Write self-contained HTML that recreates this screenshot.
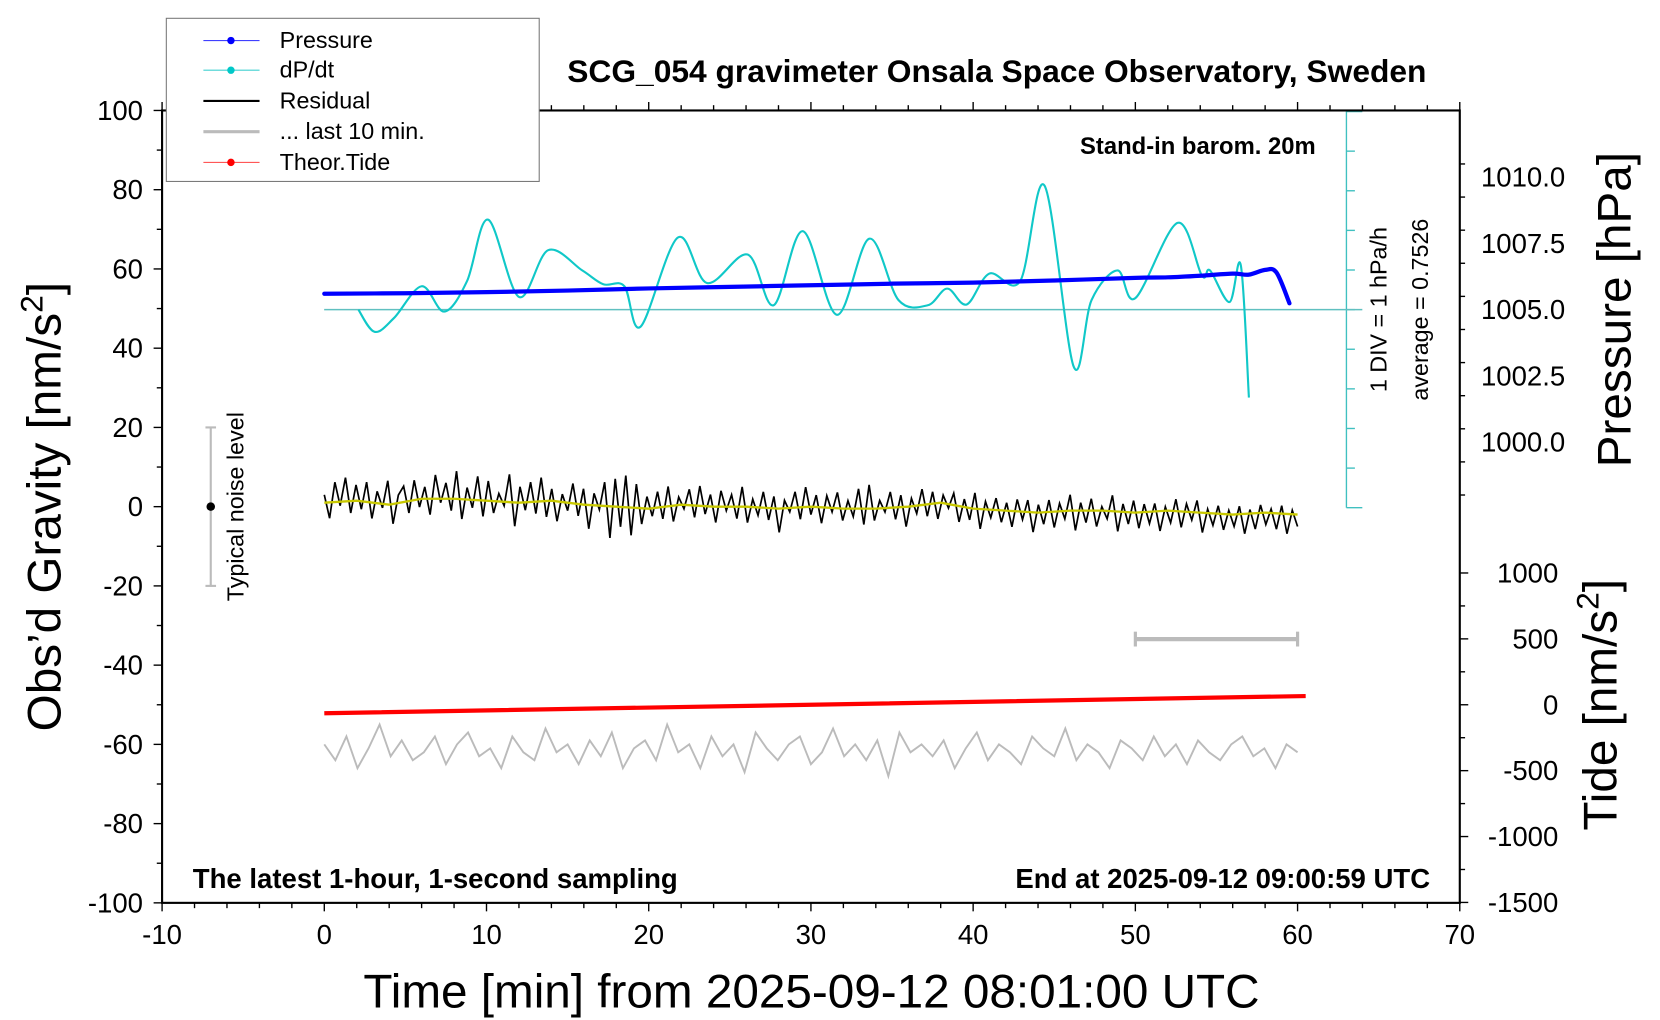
<!DOCTYPE html>
<html><head><meta charset="utf-8"><style>
html,body{margin:0;padding:0;background:#fff}
svg{display:block;font-family:"Liberation Sans",sans-serif}
</style></head><body>
<svg id="chart" width="1660" height="1020" viewBox="0 0 1567 962.3" xmlns="http://www.w3.org/2000/svg">
<rect width="1567" height="962.3" fill="#fff"/>
<g id="marks"></g>
<g id="axes"></g>
<text x="941" y="77" font-size="30" font-weight="bold" text-anchor="middle">SCG_054 gravimeter Onsala Space Observatory, Sweden</text>
<text x="1242" y="145" font-size="22.5" font-weight="bold" text-anchor="end">Stand-in barom. 20m</text>
<text x="182" y="838" font-size="26" font-weight="bold">The latest 1-hour, 1-second sampling</text>
<text x="1350" y="838" font-size="26" font-weight="bold" text-anchor="end">End at 2025-09-12 09:00:59 UTC</text>
<text x="766" y="951" font-size="45" text-anchor="middle">Time [min] from 2025-09-12 08:01:00 UTC</text>
<text transform="translate(57,478) rotate(-90)" font-size="45" text-anchor="middle">Obs’d Gravity [nm/s<tspan font-size="30" dy="-17">2</tspan><tspan dy="17">]</tspan></text>
<text transform="translate(1539,292) rotate(-90)" font-size="45" text-anchor="middle">Pressure [hPa]</text>
<text transform="translate(1526,665) rotate(-90)" font-size="45" text-anchor="middle">Tide [nm/s<tspan font-size="30" dy="-17">2</tspan><tspan dy="17">]</tspan></text>
<text transform="translate(1309,292) rotate(-90)" font-size="22" text-anchor="middle">1 DIV = 1 hPa/h</text>
<text transform="translate(1348,292) rotate(-90)" font-size="22" text-anchor="middle">average = 0.7526</text>
<text transform="translate(230,478) rotate(-90)" font-size="22" text-anchor="middle">Typical noise level</text>
<g>
<rect x="157" y="17" width="352" height="154" fill="#fff" stroke="#777" stroke-width="1"/>
<g><line x1="192" y1="38" x2="245" y2="38" stroke="#4040ff" stroke-width="1"/><circle cx="218" cy="38" r="3.5" fill="#00f"/><text x="264" y="45" font-size="22">Pressure</text></g>
<g><line x1="192" y1="66" x2="245" y2="66" stroke="#40d0d0" stroke-width="1"/><circle cx="218" cy="66" r="3.5" fill="#00c8c8"/><text x="264" y="73" font-size="22">dP/dt</text></g>
<g><line x1="192" y1="95" x2="245" y2="95" stroke="#000" stroke-width="2"/><text x="264" y="102" font-size="22">Residual</text></g>
<g><line x1="192" y1="124" x2="245" y2="124" stroke="#bbb" stroke-width="3"/><text x="264" y="131" font-size="22">... last 10 min.</text></g>
<g><line x1="192" y1="153" x2="245" y2="153" stroke="#ff4040" stroke-width="1"/><circle cx="218" cy="153" r="3.5" fill="#f00"/><text x="264" y="160" font-size="22">Theor.Tide</text></g>
</g>
</svg>
<script>
// ---- data ----
const pressT = [0,5,10,15,20,25,30,35,40,45,50,52,54,56,57,58,58.7,59.5];
const pressV = [1005.6,1005.62,1005.66,1005.72,1005.8,1005.86,1005.92,1005.98,1006.02,1006.1,1006.2,1006.22,1006.28,1006.36,1006.32,1006.5,1006.4,1005.24];
const dpdtT = [2.1,3.1,4.3,6,7.4,8.8,10.1,12,13.8,15.9,17.2,18.5,19.5,21.8,23.6,26.1,27.7,29.5,31.6,33.6,35.4,37.2,38.4,39.6,41,42.9,44.4,46.2,47.3,48.9,50,52.6,54.1,54.6,55.8,56.5,57];
const dpdtV = [0,-0.56,-0.21,0.59,-0.05,0.72,2.27,0.32,1.5,0.99,0.64,0.59,-0.43,1.82,0.67,1.39,0.11,1.98,-0.13,1.79,0.24,0.11,0.53,0.13,0.91,0.72,3.13,-1.44,0.24,0.99,0.29,2.19,0.86,0.99,0.19,1.12,-2.22];
const residV = [2,-4,5,-1,6,-3,4,-2,5,-4,3,-1,6,-5,2,4,-3,5,-2,3,-4,6,-1,4,-3,7,-5,3,-2,6,-4,5,-3,2,-1,7,-6,4,-2,5,-3,6,-4,3,-5,2,-2,5,-3,4,-6,3,-1,6,-8,7,-5,8,-7,6,-4,3,-2,4,-3,5,-4,2,-1,4,-3,5,-2,3,-4,4,-1,3,-3,5,-4,2,-2,4,-3,3,-6,2,-1,4,-3,5,-2,3,-4,3,-1,4,-3,2,-2,5,-4,6,-3,2,-1,4,-3,3,-5,2,-2,4,-3,3,-4,2,-1,3,-4,2,-3,4,-5,2,-2,3,-3,2,-4,3,-2,3,-5,2,-3,3,-4,2,-2,4,-5,2,-3,3,-4,1,-2,4,-5,2,-3,3,-4,2,-3,2,-5,1,-3,3,-4,2,-2,3,-5,1,-3,2,-4,1,-3,2,-5,1,-4,2,-3,1,-4,2,-5,1,-3];
const smoothT = [0,2,4,6,8,10,12,14,16,18,20,22,24,26,28,30,32,34,36,38,40,42,44,46,48,50,52,54,56,58,60];
const smoothV = [1,1.5,0.5,2,2,1.5,1,1.5,0.5,0,-0.5,0.5,0,0,-0.5,0,-0.5,-0.5,0,1,-0.5,-1,-1.5,-1,-1,-1.5,-1,-1.5,-2,-1.5,-2];
const last10V = [-60,-64,-58,-66,-61,-55,-63,-59,-64,-62,-58,-65,-60,-57,-63,-61,-66,-58,-62,-64,-56,-62,-60,-65,-59,-63,-57,-66,-61,-59,-64,-55,-62,-60,-66,-58,-63,-60,-67,-57,-61,-64,-60,-58,-65,-62,-56,-63,-60,-64,-59,-68,-57,-62,-60,-63,-59,-66,-61,-57,-64,-60,-62,-65,-58,-61,-63,-56,-64,-60,-62,-66,-59,-61,-64,-58,-63,-60,-65,-59,-62,-64,-60,-58,-63,-61,-66,-60,-62];
const tideT = [0,30,60.5];
const tideV = [-64,0,66];
const xTicks = [-10,0,10,20,30,40,50,60,70];
const yTicks = [100,80,60,40,20,0,-20,-40,-60,-80,-100];
const pTicks = ['1010.0','1007.5','1005.0','1002.5','1000.0'];
const tideTicks = [1000,500,0,-500,-1000,-1500];
// ---- scales ----
const X0=153,X1=1378,Y0=104,Y1=852;
const sx=t=>X0+(t+10)/80*(X1-X0);
const sy=v=>Y1-(v+100)/200*(Y1-Y0);
const sp=p=>292-(p-1005)*25;
const sd=d=>292-d*37.4;
const st=v=>665-v*62.2/500;
const NS="http://www.w3.org/2000/svg";
const marks=document.getElementById('marks'), axes=document.getElementById('axes');
function mk(tag,attrs,parent){const e=document.createElementNS(NS,tag);for(const k in attrs)e.setAttribute(k,attrs[k]);parent.appendChild(e);return e;}
function smoothPath(pts){let d=`M${pts[0][0]},${pts[0][1]}`;for(let i=0;i<pts.length-1;i++){const p0=pts[Math.max(0,i-1)],p1=pts[i],p2=pts[i+1],p3=pts[Math.min(pts.length-1,i+2)];d+=` C${p1[0]+(p2[0]-p0[0])/6},${p1[1]+(p2[1]-p0[1])/6} ${p2[0]-(p3[0]-p1[0])/6},${p2[1]-(p3[1]-p1[1])/6} ${p2[0]},${p2[1]}`;}return d;}
// dP/dt scale
const sc=mk('g',{},marks);


mk('line',{x1:1271,y1:sd(5),x2:1271,y2:sd(-5),stroke:'#40c0c0','stroke-width':1.3},sc);
for(let k=-5;k<=5;k++){mk('line',{x1:1271,y1:sd(k),x2:k===-5||k===5?1286:1279,y2:sd(k),stroke:'#40c0c0','stroke-width':1.3},sc);}
const avg=mk('line',{x1:306,y1:292,x2:1286,y2:292,stroke:'#60c0c0','stroke-width':1.3},marks);


// dP/dt
const dp=mk('path',{d:smoothPath(dpdtT.map((t,i)=>[sx(t),sd(dpdtV[i])])),fill:'none',stroke:'#10c8c8','stroke-width':2},marks);


// pressure
const pr=mk('path',{d:smoothPath(pressT.map((t,i)=>[sx(t),sp(pressV[i])])),fill:'none',stroke:'#0000ff','stroke-width':4,'stroke-linecap':'round'},marks);


// residual
const rs=mk('polyline',{points:residV.map((v,i)=>{const t=i*60/(residV.length-1);let k=Math.min(Math.floor(t/2),smoothV.length-2);const f=(t-smoothT[k])/2;const b=smoothV[k]+(smoothV[k+1]-smoothV[k])*f;return sx(t)+','+sy(b+v);}).join(' '),fill:'none',stroke:'#000','stroke-width':1.6},marks);


const sm=mk('polyline',{points:smoothT.map((t,i)=>sx(t)+','+sy(smoothV[i])).join(' '),fill:'none',stroke:'#c8c800','stroke-width':2.2},marks);


// last 10 min
const l10=mk('polyline',{points:last10V.map((v,i)=>sx(i*60/(last10V.length-1))+','+sy(v)).join(' '),fill:'none',stroke:'#bbb','stroke-width':1.8},marks);


const bar=mk('g',{},marks);


mk('line',{x1:sx(50),y1:603,x2:sx(60),y2:603,stroke:'#bbb','stroke-width':4},bar);
mk('line',{x1:sx(50),y1:596,x2:sx(50),y2:610,stroke:'#bbb','stroke-width':3},bar);
mk('line',{x1:sx(60),y1:596,x2:sx(60),y2:610,stroke:'#bbb','stroke-width':3},bar);
// tide
const td=mk('polyline',{points:tideT.map((t,i)=>sx(t)+','+st(tideV[i])).join(' '),fill:'none',stroke:'#ff0000','stroke-width':4},marks);


// noise level
const nl=mk('g',{},marks);


mk('line',{x1:sx(-7),y1:sy(20),x2:sx(-7),y2:sy(-20),stroke:'#bbb','stroke-width':2},nl);
mk('line',{x1:sx(-7)-5,y1:sy(20),x2:sx(-7)+5,y2:sy(20),stroke:'#bbb','stroke-width':2},nl);
mk('line',{x1:sx(-7)-5,y1:sy(-20),x2:sx(-7)+5,y2:sy(-20),stroke:'#bbb','stroke-width':2},nl);
mk('circle',{cx:sx(-7),cy:sy(0),r:4,fill:'#000'},nl);
// axes
const frame=mk('rect',{x:X0,y:Y0,width:X1-X0,height:Y1-Y0,fill:'none',stroke:'#000','stroke-width':2},axes);


for(let t=-10;t<=70;t+=2){const big=t%10===0;mk('line',{x1:sx(t),y1:Y1,x2:sx(t),y2:Y1+(big?8:5),stroke:'#000','stroke-width':1.3},axes);mk('line',{x1:sx(t),y1:Y0,x2:sx(t),y2:Y0-(big?8:5),stroke:'#000','stroke-width':1.3},axes);}
xTicks.forEach(t=>{const e=mk('text',{x:sx(t),y:Y1+39,'font-size':26,'text-anchor':'middle'},axes);e.textContent=t;

});
for(let v=-100;v<=100;v+=10){const big=v%20===0;mk('line',{x1:X0,y1:sy(v),x2:X0-(big?8:5),y2:sy(v),stroke:'#000','stroke-width':1.3},axes);}
yTicks.forEach(v=>{const e=mk('text',{x:X0-18,y:sy(v)+9,'font-size':26,'text-anchor':'end'},axes);e.textContent=v;

});
for(let p=998;p<=1011.5;p+=1.25){if(sp(p)<Y0)continue;const big=Math.abs((p-1000)/2.5-Math.round((p-1000)/2.5))<1e-6;mk('line',{x1:X1,y1:sp(p),x2:X1+(big?8:5),y2:sp(p),stroke:'#000','stroke-width':1.3},axes);}
pTicks.forEach(p=>{const e=mk('text',{x:X1+20,y:sp(+p)+9,'font-size':26},axes);e.textContent=p;

});
for(let v=-1500;v<=1000;v+=250){const big=v%500===0;mk('line',{x1:X1,y1:st(v),x2:X1+(big?8:5),y2:st(v),stroke:'#000','stroke-width':1.3},axes);}
tideTicks.forEach(v=>{const e=mk('text',{x:X1+93,y:st(v)+9,'font-size':26,'text-anchor':'end'},axes);e.textContent=v;

});
</script>
</body></html>
